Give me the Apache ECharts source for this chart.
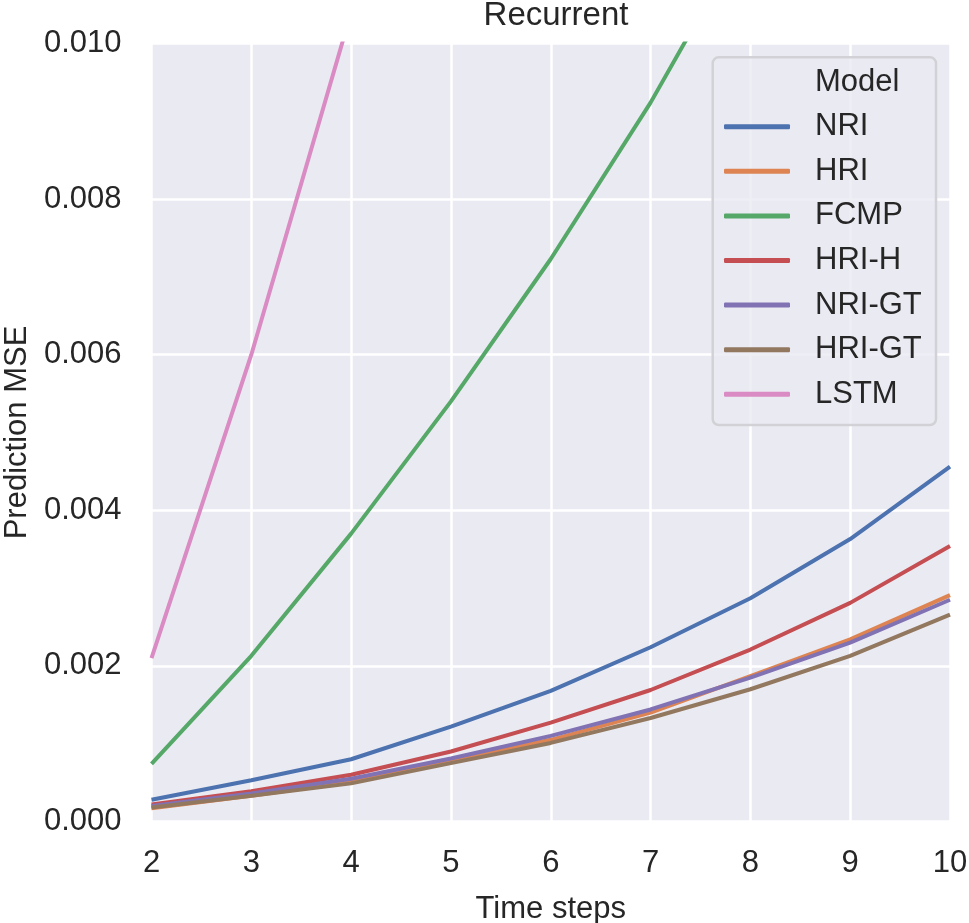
<!DOCTYPE html>
<html>
<head>
<meta charset="utf-8">
<script src="https://cdn.jsdelivr.net/npm/echarts@6/dist/echarts.min.js"></script>
<style>
  html, body { margin: 0; padding: 0; background: #fff; }
  #chart { width: 969px; height: 923px; }
</style>
</head>
<body>
<div id="chart"></div>
<script>
var steps = [2, 3, 4, 5, 6, 7, 8, 9, 10];
var models = ['NRI', 'HRI', 'FCMP', 'HRI-H', 'NRI-GT', 'HRI-GT', 'LSTM'];
var colors = ['#4C72B0', '#DD8452', '#55A868', '#C44E52', '#8172B3', '#937860', '#DA8BC3'];

var nri   = [0.00028, 0.00053, 0.00080, 0.00122, 0.00168, 0.00224, 0.00287, 0.00363, 0.00456];
var hri   = [0.00017, 0.00033, 0.00051, 0.00079, 0.00105, 0.00140, 0.00187, 0.00234, 0.00291];
var fcmp  = [0.00074, 0.00213, 0.00370, 0.00540, 0.00723, 0.00924, 0.01150, 0.01390, 0.01660];
var hriH  = [0.00022, 0.00039, 0.00060, 0.00090, 0.00127, 0.00169, 0.00221, 0.00281, 0.00354];
var nriGT = [0.00020, 0.00036, 0.00055, 0.00081, 0.00110, 0.00144, 0.00185, 0.00230, 0.00285];
var hriGT = [0.00018, 0.00033, 0.00049, 0.00075, 0.00101, 0.00133, 0.00170, 0.00213, 0.00266];
var lstm  = [0.00210, 0.00600, 0.01040, 0.01550, 0.02150, 0.02800, 0.03500, 0.04300, 0.05100];

var yTicks = [0, 0.002, 0.004, 0.006, 0.008, 0.010];

var seriesData = [nri, hri, fcmp, hriH, nriGT, hriGT, lstm];
var font = 'Liberation Sans, Arial, sans-serif';

function pairs(values) {
    var out = [];
    for (var i = 0; i < steps.length; i++) {
        out.push([steps[i], values[i]]);
    }
    return out;
}

var series = [];
for (var i = 0; i < models.length; i++) {
    series.push({
        name: models[i],
        type: 'line',
        data: pairs(seriesData[i]),
        showSymbol: false,
        clip: true,
        lineStyle: {color: colors[i], width: 4},
        itemStyle: {color: colors[i]},
        z: 3
    });
}

var option = {
    backgroundColor: '#ffffff',
    animation: false,
    textStyle: {fontFamily: font},
    title: {
        text: 'Recurrent',
        left: 551,
        top: -6,
        textAlign: 'center',
        textStyle: {fontFamily: font, fontSize: 33, fontWeight: 'normal', color: '#262626'}
    },
    grid: {
        left: 151.5,
        right: 19,
        top: 43.5,
        bottom: 101.5,
        outerBoundsMode: 'none',
        containLabel: false,
        show: true,
        backgroundColor: '#EAEAF2',
        borderWidth: 0
    },
    legend: {
        data: models,
        orient: 'vertical',
        left: 724,
        top: 111.2,
        padding: 0,
        itemWidth: 66,
        itemHeight: 5,
        itemGap: 13.6,
        icon: 'roundRect',
        z: 20,
        textStyle: {
            fontFamily: font,
            fontSize: 31,
            lineHeight: 31,
            color: '#262626',
            padding: [0, 0, 0, 20]
        }
    },
    graphic: [
        {
            type: 'rect',
            z: 10,
            shape: {x: 712.7, y: 57.3, width: 223.3, height: 367.7, r: 6},
            style: {fill: 'rgba(234,234,242,0.8)', stroke: '#d2d2d6', lineWidth: 2.5}
        },
        {
            type: 'text',
            z: 21,
            x: 815,
            y: 82.3,
            style: {
                text: 'Model',
                fontFamily: font,
                fontSize: 31,
                fill: '#262626',
                verticalAlign: 'middle'
            }
        }
    ],
    xAxis: {
        type: 'value',
        min: 2,
        max: 10,
        interval: 1,
        name: 'Time steps',
        nameLocation: 'middle',
        nameGap: 72,
        nameTextStyle: {fontFamily: font, fontSize: 31, color: '#262626'},
        axisLine: {show: false},
        axisTick: {show: false},
        axisLabel: {fontFamily: font, fontSize: 31, color: '#262626', margin: 26},
        splitLine: {show: true, lineStyle: {color: '#ffffff', width: 2.5}}
    },
    yAxis: {
        type: 'value',
        min: 0,
        max: 0.010,
        interval: 0.002,
        name: 'Prediction MSE',
        nameLocation: 'middle',
        nameGap: 117,
        nameTextStyle: {fontFamily: font, fontSize: 31, color: '#262626'},
        axisLine: {show: false},
        axisTick: {show: false},
        axisLabel: {
            fontFamily: font,
            fontSize: 31,
            color: '#262626',
            margin: 30,
            formatter: function (v) {
                for (var k = 0; k < yTicks.length; k++) {
                    if (Math.abs(yTicks[k] - v) < 1e-9) return yTicks[k].toFixed(3);
                }
                return v.toFixed(3);
            }
        },
        splitLine: {show: true, lineStyle: {color: '#ffffff', width: 2.5}}
    },
    series: series
};

echarts.init(document.getElementById('chart')).setOption(option);
</script>
</body>
</html>
